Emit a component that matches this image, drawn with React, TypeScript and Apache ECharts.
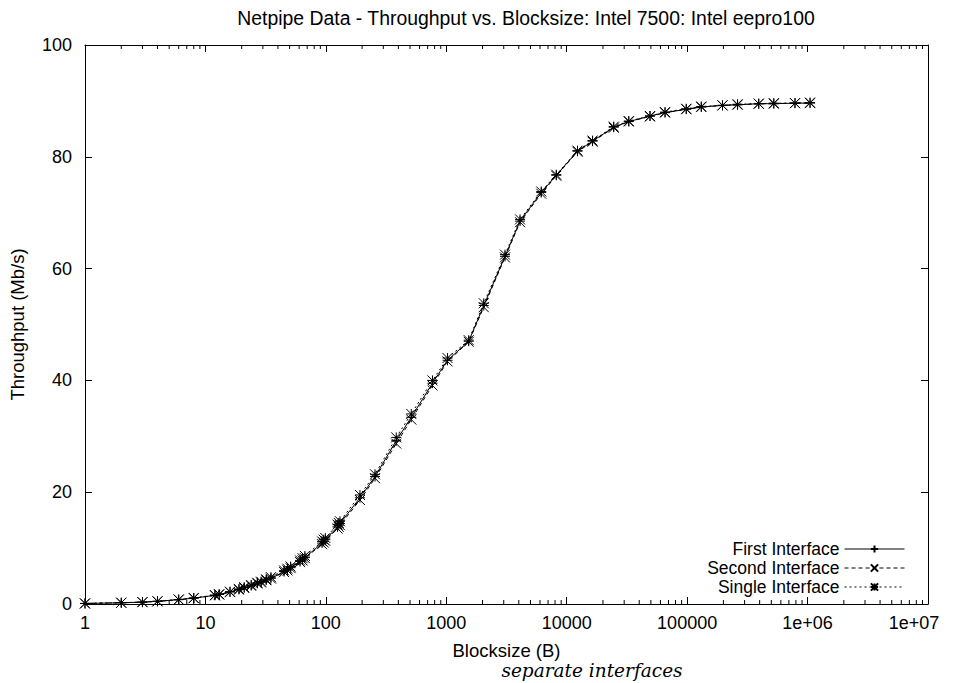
import React, { useEffect, useRef } from "react";
import * as echarts from "echarts";

const blockSizes = [
  1, 2, 3, 4, 6, 8, 12, 13, 16, 19, 21, 24, 27, 29, 32, 35, 45, 48, 51, 61, 64, 67, 93, 96, 99,
  125, 128, 131, 192, 256, 384, 512, 768, 1024, 1536, 2048, 3072, 4096, 6144, 8192, 12288,
  16384, 24576, 32768, 49152, 65536, 98304, 131072, 196608, 262144, 393216, 524288, 786432,
  1048576,
];

const firstInterface = [
  0.1, 0.22, 0.33, 0.48, 0.78, 1.05, 1.55, 1.7, 2.15, 2.6, 2.9, 3.3, 3.7, 3.9, 4.3, 4.6, 5.8,
  6.1, 6.5, 7.6, 7.9, 8.3, 10.9, 11.2, 11.5, 13.8, 14.1, 14.4, 19.0, 22.8, 29.2, 33.4, 39.5,
  43.6, 47.0, 53.4, 62.2, 68.5, 73.6, 76.7, 81.0, 82.8, 85.3, 86.3, 87.3, 87.9, 88.5, 88.9,
  89.2, 89.3, 89.5, 89.5, 89.6, 89.6,
];

const secondInterface = [
  0.1, 0.22, 0.33, 0.47, 0.77, 1.04, 1.53, 1.68, 2.12, 2.56, 2.86, 3.25, 3.65, 3.85, 4.25, 4.55,
  5.7, 6.0, 6.4, 7.5, 7.8, 8.2, 10.7, 11.0, 11.3, 13.5, 13.8, 14.1, 18.6, 22.5, 28.7, 33.0, 39.1,
  43.4, 46.9, 53.1, 62.0, 68.3, 73.4, 76.6, 80.9, 82.7, 85.2, 86.3, 87.2, 87.9, 88.5, 88.9, 89.2,
  89.3, 89.5, 89.5, 89.6, 89.6,
];

const singleInterface = [
  0.1, 0.23, 0.34, 0.5, 0.8, 1.08, 1.6, 1.75, 2.2, 2.7, 3.0, 3.4, 3.8, 4.0, 4.4, 4.8, 6.0, 6.3,
  6.7, 7.8, 8.2, 8.6, 11.2, 11.5, 11.8, 14.2, 14.5, 14.8, 19.5, 23.2, 29.8, 34.0, 40.0, 44.0,
  47.2, 53.8, 62.5, 68.8, 73.8, 76.8, 81.1, 82.9, 85.4, 86.4, 87.3, 88.0, 88.6, 89.0, 89.2, 89.4,
  89.5, 89.6, 89.6, 89.7,
];

const yTicks = [0, 20, 40, 60, 80, 100];
const decades = [1, 10, 100, 1000, 10000, 100000, 1000000];
const minorMultipliers = [2, 3, 4, 5, 6, 7, 8, 9];

const TITLE = "Netpipe Data - Throughput vs. Blocksize: Intel 7500: Intel eepro100";
const FONT = "Liberation Sans, Arial, Helvetica, sans-serif";
const FS = 18.5;

const PLUS = "path://M5,0L5,10M0,5L10,5";
const CROSS = "path://M0,0L10,10M10,0L0,10";
const STAR = "path://M5,0L5,10M0,5L10,5M0,0L10,10M10,0L0,10";

function pairs(vals: number[]) {
  return blockSizes.map((s, i) => [s, vals[i]]);
}

function fmtX(v: number) {
  if (v >= 1000000) {
    const e = Math.round(Math.log10(v));
    const s = "1e+" + (e < 10 ? "0" + e : String(e));
    return e >= 7 ? "{last|" + s + "}" : s;
  }
  return String(Math.round(v));
}

export default function App() {
  const ref = useRef<HTMLDivElement>(null);
  useEffect(() => {
    if (!ref.current) return;
    const chart = echarts.init(ref.current, undefined, { renderer: "svg" });
    const minorTicks: number[][] = [];
    decades.forEach((d) => minorMultipliers.forEach((m) => minorTicks.push([d * m])));

    const lineSeries = (name: string, vals: number[], symbol: string, type: any) => ({
      name,
      type: "line",
      data: pairs(vals),
      symbol,
      symbolSize: 10,
      showSymbol: true,
      lineStyle: { color: "#000", width: 1, type },
      itemStyle: { color: "rgba(0,0,0,0)", borderColor: "#000", borderWidth: 1 },
      emphasis: { disabled: true },
      z: 3,
    });

    const legendBase = {
      orient: "horizontal",
      align: "right",
      right: 50,
      padding: 0,
      itemWidth: 60,
      itemHeight: 9,
      itemGap: 0,
      selectedMode: false,
      lineStyle: { width: 1, color: "#000", type: "inherit" },
      textStyle: { fontFamily: FONT, fontSize: 17.5, color: "#000" },
    };

    const axisLineStyle = { show: true, onZero: false, lineStyle: { color: "#000", width: 1 } };
    const tickStyle = { show: true, inside: true, length: 7, lineStyle: { color: "#000" } };

    chart.setOption({
      animation: false,
      backgroundColor: "#fff",
      title: {
        text: TITLE,
        left: 521,
        textAlign: "center",
        top: 3,
        textStyle: { fontFamily: FONT, fontSize: 19.4, fontWeight: "normal", color: "#000" },
      },
      legend: [
        { ...legendBase, top: 540, data: ["First Interface"] },
        { ...legendBase, top: 559, data: ["Second Interface"] },
        { ...legendBase, top: 578, data: ["Single Interface"] },
      ],
      grid: { left: 85, right: 27, top: 45, bottom: 79, containLabel: false },
      xAxis: [
        {
          type: "log",
          logBase: 10,
          min: 1,
          max: 10000000,
          splitNumber: 7,
          name: "Blocksize (B)",
          nameLocation: "middle",
          nameGap: 37,
          nameTextStyle: { fontFamily: FONT, fontSize: FS, color: "#000" },
          axisLine: axisLineStyle,
          axisTick: tickStyle,
          axisLabel: {
            fontFamily: FONT,
            fontSize: 18,
            color: "#000",
            margin: 10,
            formatter: fmtX,
            rich: { last: { fontFamily: FONT, fontSize: 18, color: "#000", padding: [0, 28, 0, 0] } },
          },
          splitLine: { show: false },
        },
        {
          type: "log",
          logBase: 10,
          min: 1,
          max: 10000000,
          splitNumber: 7,
          position: "top",
          axisLine: axisLineStyle,
          axisTick: tickStyle,
          axisLabel: { show: false },
          splitLine: { show: false },
        },
      ],
      yAxis: [
        {
          type: "value",
          min: yTicks[0],
          max: yTicks[yTicks.length - 1],
          interval: 20,
          name: "Throughput (Mb/s)",
          nameLocation: "middle",
          nameGap: 58,
          nameTextStyle: { fontFamily: FONT, fontSize: FS, color: "#000" },
          axisLine: axisLineStyle,
          axisTick: tickStyle,
          axisLabel: { fontFamily: FONT, fontSize: 18, color: "#000", margin: 13 },
          splitLine: { show: false },
        },
        {
          type: "value",
          min: yTicks[0],
          max: yTicks[yTicks.length - 1],
          interval: 20,
          position: "right",
          axisLine: axisLineStyle,
          axisTick: tickStyle,
          axisLabel: { show: false },
          splitLine: { show: false },
        },
      ],
      graphic: [
        {
          type: "text",
          x: 592,
          y: 661,
          style: {
            text: "separate interfaces",
            align: "center",
            verticalAlign: "top",
            fontFamily: "DejaVu Serif, serif",
            fontStyle: "italic",
            fontSize: 18.5,
            fill: "#000",
          },
        },
      ],
      series: [
        {
          type: "custom",
          silent: true,
          xAxisIndex: 0,
          yAxisIndex: 0,
          data: minorTicks,
          encode: { x: 0 },
          z: 1,
          renderItem: (params: any, api: any) => {
            const v = api.value(0);
            const b = api.coord([v, 0]);
            const t = api.coord([v, 100]);
            const style = { stroke: "#000", lineWidth: 1 };
            return {
              type: "group",
              children: [
                { type: "line", shape: { x1: b[0], y1: b[1], x2: b[0], y2: b[1] - 4 }, style },
                { type: "line", shape: { x1: t[0], y1: t[1], x2: t[0], y2: t[1] + 4 }, style },
              ],
            };
          },
        },
        lineSeries("First Interface", firstInterface, PLUS, "solid"),
        lineSeries("Second Interface", secondInterface, CROSS, [4, 3]),
        lineSeries("Single Interface", singleInterface, STAR, [2, 3]),
      ],
    });
    return () => chart.dispose();
  }, []);
  return (
    <div
      ref={ref}
      style={{ position: "absolute", left: 0, top: 0, width: 955, height: 683 }}
    />
  );
}
